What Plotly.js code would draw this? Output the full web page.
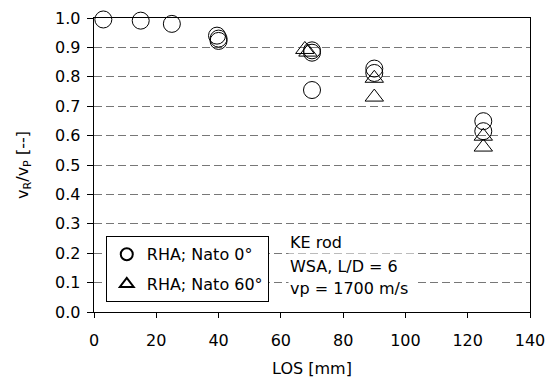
<!DOCTYPE html>
<html>
<head>
<meta charset="utf-8">
<script src="https://cdn.plot.ly/plotly-3.0.1.min.js"></script>
<style>html,body{margin:0;padding:0;background:#fff;}#chart{width:548px;height:385px;}</style>
</head>
<body>
<div id="chart"></div>
<script>
// Series: RHA; Nato 0° (circles)
const nato0_los = [3, 15, 25, 39.5, 40, 40, 70, 70, 70, 90, 90, 125, 125];
const nato0_ratio = [0.995, 0.991, 0.980, 0.940, 0.930, 0.922, 0.890, 0.882, 0.755, 0.828, 0.813, 0.649, 0.615];
// Series: RHA; Nato 60° (triangles)
const nato60_los = [67.7, 68.7, 90, 90, 125, 125];
const nato60_ratio = [0.893, 0.884, 0.795, 0.731, 0.598, 0.561];
// Axis ticks
const xTicks = [0, 20, 40, 60, 80, 100, 120, 140];
const yTicks = [0.0, 0.1, 0.2, 0.3, 0.4, 0.5, 0.6, 0.7, 0.8, 0.9, 1.0];
const seriesNames = ['RHA; Nato 0°', 'RHA; Nato 60°'];
const noteLines = ['KE rod', 'WSA, L/D = 6', 'vp = 1700 m/s'];

const FONT = 'DejaVu Sans, Verdana, sans-serif';
const FS = 16;

const traces = [
  {
    x: nato0_los, y: nato0_ratio, name: seriesNames[0], type: 'scatter', mode: 'markers',
    legendgroup: 'a', cliponaxis: false,
    marker: {symbol: 'circle-open', size: 17, color: '#000', line: {color: '#000', width: 1}}
  },
  {
    x: nato60_los, y: nato60_ratio, name: seriesNames[1], type: 'scatter', mode: 'markers',
    legendgroup: 'b', cliponaxis: false,
    marker: {symbol: 'triangle-up-open', size: 16, color: '#000', line: {color: '#000', width: 1}}
  }
];

const noteY = [0.2347, 0.1554, 0.0796];
const annotations = noteLines.map((t, i) => ({
  text: t, xref: 'paper', yref: 'paper', x: 0.445, y: noteY[i],
  xanchor: 'left', yanchor: 'middle', align: 'left', showarrow: false,
  width: 126, borderpad: 1, bgcolor: '#fff',
  font: {family: FONT, size: FS, color: '#000'}
}));

const layout = {
  width: 548, height: 385,
  margin: {l: 94, r: 18, t: 18, b: 73, pad: 0},
  paper_bgcolor: '#fff', plot_bgcolor: '#fff',
  font: {family: FONT, size: FS, color: '#000'},
  showlegend: true,
  legend: {
    x: 0.027, y: 0.2575, xanchor: 'left', yanchor: 'top',
    bgcolor: '#fff', bordercolor: '#000', borderwidth: 1,
    itemsizing: 'constant', traceorder: 'grouped', tracegroupgap: 6,
    font: {family: FONT, size: FS, color: '#000'}
  },
  xaxis: {
    range: [0, 140], tickvals: xTicks, ticktext: xTicks.map(String),
    ticks: 'outside', ticklen: 5, tickcolor: '#000', tickwidth: 1, ticklabelstandoff: 8,
    showline: true, linecolor: '#000', linewidth: 1.3, mirror: true,
    showgrid: false, zeroline: false,
    title: {text: 'LOS [mm]', font: {family: FONT, size: FS, color: '#000'}, standoff: 14}
  },
  yaxis: {
    range: [0, 1.0], tickvals: yTicks, ticktext: yTicks.map(v => v.toFixed(1)),
    ticks: 'outside', ticklen: 6, tickcolor: '#000', tickwidth: 1, ticklabelstandoff: 3,
    showline: true, linecolor: '#000', linewidth: 1.3, mirror: true,
    showgrid: true, gridcolor: '#777777', gridwidth: 1, griddash: '8px,4px',
    zeroline: false,
    title: {text: 'v<sub>R</sub>/v<sub>P</sub> [--]', font: {family: FONT, size: FS, color: '#000'}, standoff: 22}
  },
  annotations: annotations
};

Plotly.newPlot('chart', traces, layout, {displayModeBar: false, staticPlot: true});
</script>
</body>
</html>
